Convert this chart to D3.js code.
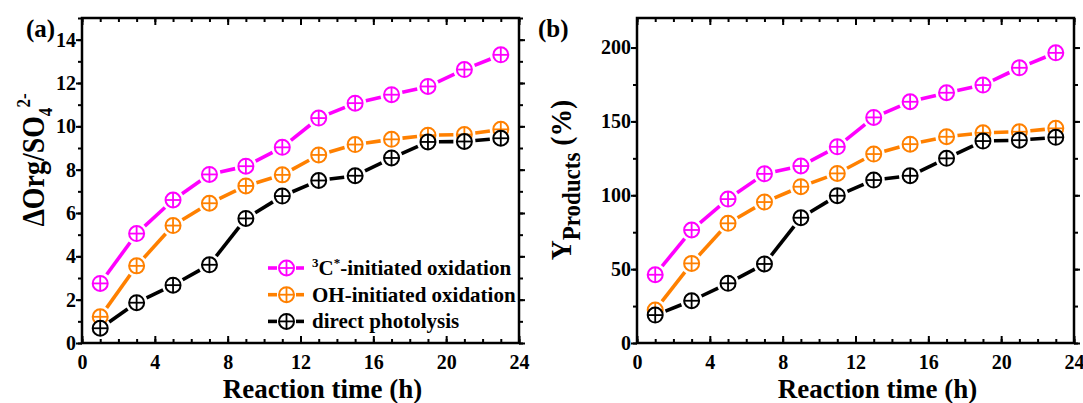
<!DOCTYPE html>
<html><head><meta charset="utf-8">
<script src="https://cdn.jsdelivr.net/npm/d3@7"></script>
<style>
body{margin:0;background:#fff}
svg{display:block}
text{font-family:"Liberation Serif","Times New Roman",serif;font-weight:bold;fill:#000}
</style>
</head><body>
<svg id="chart" width="1083" height="403"></svg>
<script>
// ---------- data ----------
const hours = [1,3,5,7,9,11,13,15,17,19,21,23];
const seriesKeys = ["C3", "OH", "DP"];
const seriesColors = ["#FF00FF", "#FF8000", "#000000"];
// panel (a): ΔOrg/SO4 2-
const orgC3 = [2.75,5.05,6.6,7.78,8.16,9.03,10.38,11.07,11.46,11.84,12.62,13.3];
const orgOH = [1.21,3.56,5.42,6.45,7.25,7.76,8.68,9.16,9.4,9.59,9.62,9.86];
const orgDP = [0.68,1.86,2.67,3.61,5.75,6.78,7.5,7.72,8.54,9.28,9.3,9.45];
// panel (b): Y Products (%)
const yieldC3 = [46.2,76.5,97.4,114.5,119.8,132.8,152.7,163.3,169.4,174.6,186.3,196.4];
const yieldOH = [22.3,53.9,81,95.4,105.8,114.8,127.9,134.6,139.6,142.3,143,145.3];
const yieldDP = [18.9,28.6,40.4,53.5,84.8,99.7,110.3,113.2,125,136.7,137.3,139.2];
// ticks
const xTicks = [0,4,8,12,16,20,24];
const xMinor = d3.range(0,25,1);
const aTicks = [0,2,4,6,8,10,12,14];
const aMinor = d3.range(0,16,1);
const bTicks = [0,50,100,150,200];
const bMinor = d3.range(0,225,25);

const svg = d3.select("#chart");

function panel(opts){
  const {left,right,top,bottom,yDomain,yTicksMaj,yTicksMin,series,label} = opts;
  const x = d3.scaleLinear().domain([0,24]).range([left,right]);
  const y = d3.scaleLinear().domain(yDomain).range([bottom,top]);
  const g = svg.append("g");

  function styleAxis(sel){
    sel.select(".domain").remove();
    sel.selectAll(".tick line").attr("stroke","#000").attr("stroke-width",2);
    sel.selectAll(".tick text").style("font-size","20px").style("font-family",'"Liberation Serif",serif').style("font-weight","bold").attr("fill","#000");
  }
  // bottom
  g.append("g").attr("transform",`translate(0,${bottom})`)
    .call(d3.axisBottom(x).tickValues(xMinor).tickSizeInner(-4).tickFormat(""))
    .call(styleAxis);
  g.append("g").attr("transform",`translate(0,${bottom})`)
    .call(d3.axisBottom(x).tickValues(xTicks).tickSizeInner(-7).tickPadding(12).tickFormat(d3.format("d")))
    .call(styleAxis);
  // top
  g.append("g").attr("transform",`translate(0,${top})`)
    .call(d3.axisTop(x).tickValues(xMinor).tickSizeInner(-4).tickFormat(""))
    .call(styleAxis);
  g.append("g").attr("transform",`translate(0,${top})`)
    .call(d3.axisTop(x).tickValues(xTicks).tickSizeInner(-7).tickFormat(""))
    .call(styleAxis);
  // left
  g.append("g").attr("transform",`translate(${left},0)`)
    .call(d3.axisLeft(y).tickValues(yTicksMin).tickSizeInner(4).tickFormat(""))
    .call(styleAxis);
  g.append("g").attr("transform",`translate(${left},0)`)
    .call(d3.axisLeft(y).tickValues(yTicksMaj).tickSizeInner(6).tickPadding(0).tickFormat(d3.format("d")))
    .call(styleAxis);
  // right
  g.append("g").attr("transform",`translate(${right},0)`)
    .call(d3.axisRight(y).tickValues(yTicksMin).tickSizeInner(4).tickFormat(""))
    .call(styleAxis);
  g.append("g").attr("transform",`translate(${right},0)`)
    .call(d3.axisRight(y).tickValues(yTicksMaj).tickSizeInner(6).tickFormat(""))
    .call(styleAxis);
  // frame
  g.append("rect").attr("x",left).attr("y",top).attr("width",right-left).attr("height",bottom-top)
    .attr("fill","none").attr("stroke","#000").attr("stroke-width",2.5);

  // series
  const R = 7.5, GAP = 11;
  series.forEach((s,i)=>{
    const col = seriesColors[i];
    const pts = hours.map((h,j)=>[x(h), y(s[j])]);
    const sg = g.append("g");
    for(let j=0;j<pts.length-1;j++){
      const [x1,y1]=pts[j],[x2,y2]=pts[j+1];
      const dx=x2-x1, dy=y2-y1, L=Math.hypot(dx,dy);
      if(L<=2*GAP) continue;
      const ux=dx/L, uy=dy/L;
      sg.append("line").attr("x1",x1+ux*GAP).attr("y1",y1+uy*GAP)
        .attr("x2",x2-ux*GAP).attr("y2",y2-uy*GAP)
        .attr("stroke",col).attr("stroke-width",3.6);
    }
    pts.forEach(([px,py])=>drawMarker(sg,px,py,col,R));
  });

  // panel label
  svg.append("text").attr("x",label.x).attr("y",label.y).style("font-size","25px").text(label.t);

  // x title
  svg.append("text").attr("x",(left+right)/2+22).attr("y",398).attr("text-anchor","middle")
    .style("font-size","27px").text("Reaction time (h)");

  return {x,y,g};
}

function drawMarker(g,px,py,col,R){
  g.append("circle").attr("cx",px).attr("cy",py).attr("r",R)
    .attr("fill","#fff").attr("stroke",col).attr("stroke-width",2);
  g.append("line").attr("x1",px-R).attr("x2",px+R).attr("y1",py).attr("y2",py).attr("stroke",col).attr("stroke-width",1.8);
  g.append("line").attr("x1",px).attr("x2",px).attr("y1",py-R).attr("y2",py+R).attr("stroke",col).attr("stroke-width",1.8);
}

const pa = panel({left:82,right:519,top:18,bottom:343,yDomain:[0,15],yTicksMaj:aTicks,yTicksMin:aMinor,
  series:[orgC3,orgOH,orgDP],label:{x:26,y:37,t:"(a)"}});
const pb = panel({left:637,right:1074,top:18,bottom:343,yDomain:[0,220],yTicksMaj:bTicks,yTicksMin:bMinor,
  series:[yieldC3,yieldOH,yieldDP],label:{x:538,y:37,t:"(b)"}});

// y title (a)
const ta = svg.append("text").attr("transform","translate(44,160) rotate(-90) scale(0.9,1)").attr("text-anchor","middle")
  .style("font-size","31px");
ta.append("tspan").text("\u0394Org/SO");
ta.append("tspan").attr("dy",8).style("font-size","19px").text("4");
ta.append("tspan").attr("dy",-22).style("font-size","19px").text("2-");

// y title (b)
const tb = svg.append("text").attr("transform","translate(571,180) rotate(-90) scale(0.92,1)").attr("text-anchor","middle")
  .style("font-size","30px");
tb.append("tspan").text("Y");
tb.append("tspan").attr("dy",9).style("font-size","25px").text("Products");
tb.append("tspan").attr("dy",-9).text(" (%)");

// legend (panel a)
const legendRows = [
  {parts:[["3","sup"],["C",""],["*","sup"],["-initiated oxidation",""]]},
  {parts:[["OH-initiated oxidation",""]]},
  {parts:[["direct photolysis",""]]}
];
const lg = svg.append("g");
legendRows.forEach((row,i)=>{
  const cy = 268 + i*26.7;
  const col = seriesColors[i];
  lg.append("line").attr("x1",268).attr("x2",277).attr("y1",cy).attr("y2",cy).attr("stroke",col).attr("stroke-width",3.6);
  lg.append("line").attr("x1",296).attr("x2",304).attr("y1",cy).attr("y2",cy).attr("stroke",col).attr("stroke-width",3.6);
  drawMarker(lg,286.5,cy,col,7.5);
  const t = lg.append("text").attr("x",312).attr("y",cy+7).style("font-size","21px");
  let shifted=false;
  row.parts.forEach(([s,k])=>{
    const ts=t.append("tspan").text(s);
    if(k==="sup"){ ts.style("font-size","13px").attr("dy", shifted?0:-8); shifted=true; }
    else if(shifted){ ts.attr("dy",8); shifted=false; }
  });
});
</script>
</body></html>
